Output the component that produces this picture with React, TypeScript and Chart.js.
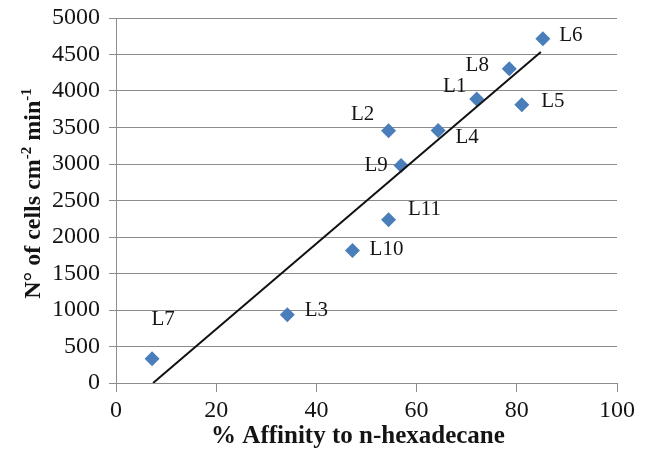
import React, { useEffect, useRef } from "react";
import { Chart, registerables } from "chart.js";

Chart.register(...registerables);

// Strain labels
const strains = ["L1", "L2", "L3", "L4", "L5", "L6", "L7", "L8", "L9", "L10", "L11"];
// % affinity to n-hexadecane
const affinity = [72.0, 54.4, 34.2, 64.3, 81.0, 85.2, 7.2, 78.5, 56.9, 47.2, 54.4];
// N° of cells cm-2 min-1
const cells = [3890, 3456, 936, 3460, 3812, 4716, 333, 4305, 2981, 1816, 2237];
// Linear trend line end points
const trendX = [7.4, 84.8];
const trendY = [0, 4534];

const xTitle = "% Affinity to n-hexadecane";
// y title pieces: [text, isSuperscript]
const yTitleParts: [string, boolean][] = [
  ["N° of cells cm", false],
  ["-2", true],
  [" min", false],
  ["-1", true],
];

// label placement relative to each marker (style only)
const labelOffsets: Record<string, [number, number]> = {
  L1: [-22, -13],
  L2: [-26, -16],
  L3: [29, -4],
  L4: [29, 7],
  L5: [31, -3],
  L6: [28, -3],
  L7: [11, -39],
  L8: [-32, -3],
  L9: [-25, 0],
  L10: [34, -1],
  L11: [36, -10],
};

const FONT = "'Liberation Serif', 'Times New Roman', serif";
const TEXT = "#141414";

const pointLabels = {
  id: "pointLabels",
  afterDatasetsDraw(chart: any) {
    const meta = chart.getDatasetMeta(0);
    const ctx = chart.ctx;
    ctx.save();
    ctx.font = `21px ${FONT}`;
    ctx.fillStyle = TEXT;
    ctx.textAlign = "center";
    ctx.textBaseline = "middle";
    meta.data.forEach((el: any, i: number) => {
      const name = strains[i];
      const off = labelOffsets[name] || [20, 0];
      ctx.fillText(name, el.x + off[0], el.y + off[1]);
    });
    ctx.restore();
  },
};

const axisTitles = {
  id: "axisTitles",
  afterDraw(chart: any) {
    const ctx = chart.ctx;
    const area = chart.chartArea;
    ctx.save();
    ctx.fillStyle = TEXT;
    // x title
    ctx.font = `bold 25px ${FONT}`;
    ctx.textAlign = "center";
    ctx.textBaseline = "middle";
    ctx.fillText(xTitle, area.left + (area.right - area.left) * 0.483, 437);
    // y title with superscripts
    const mainFont = `bold 24px ${FONT}`;
    const supFont = `bold 15px ${FONT}`;
    let total = 0;
    const widths = yTitleParts.map(([t, sup]) => {
      ctx.font = sup ? supFont : mainFont;
      const w = ctx.measureText(t).width;
      total += w;
      return w;
    });
    const cy = (area.top + area.bottom) / 2 - 7;
    ctx.translate(40, cy);
    ctx.rotate(-Math.PI / 2);
    ctx.textAlign = "left";
    ctx.textBaseline = "alphabetic";
    let x = -total / 2;
    yTitleParts.forEach(([t, sup], i) => {
      ctx.font = sup ? supFont : mainFont;
      ctx.fillText(t, x, sup ? -9 : 0);
      x += widths[i];
    });
    ctx.restore();
  },
};

export default function App() {
  const ref = useRef<HTMLCanvasElement | null>(null);

  useEffect(() => {
    document.body.style.margin = "0";
    const canvas = ref.current!;
    const chart = new Chart(canvas, {
      type: "scatter",
      data: {
        datasets: [
          {
            label: "cells",
            data: affinity.map((x, i) => ({ x, y: cells[i] })),
            pointStyle: "rectRot",
            pointRadius: 7.5,
            pointHoverRadius: 7.5,
            backgroundColor: "#4A7EBB",
            borderColor: "#4A7EBB",
            borderWidth: 0,
            order: 1,
          },
          {
            type: "line",
            label: "trend",
            data: trendX.map((x, i) => ({ x, y: trendY[i] })),
            borderColor: "#111",
            borderWidth: 2,
            pointRadius: 0,
            showLine: true,
            fill: false,
            order: 0,
          } as any,
        ],
      },
      options: {
        responsive: false,
        animation: false,
        layout: { padding: { top: 18, right: 31, left: 0, bottom: 0 } },
        plugins: {
          legend: { display: false },
          tooltip: { enabled: false },
        },
        scales: {
          x: {
            type: "linear",
            min: 0,
            max: 100,
            ticks: {
              stepSize: 20,
              padding: 4,
              color: TEXT,
              font: { family: FONT, size: 24 },
              maxRotation: 0,
              callback: (v: any) => String(v),
            },
            grid: {
              drawOnChartArea: false,
              drawTicks: true,
              tickLength: 9,
              tickColor: "#8c8c8c",
              color: "#8c8c8c",
            },
            border: { display: true, color: "#8c8c8c", width: 1 },
            title: { display: false },
            afterFit(scale: any) {
              scale.height = 72;
              scale.paddingLeft = 0;
              scale.paddingRight = 10;
            },
          },
          y: {
            type: "linear",
            min: 0,
            max: 5000,
            ticks: {
              stepSize: 500,
              padding: 9,
              color: TEXT,
              font: { family: FONT, size: 24 },
              callback: (v: any) => String(v),
            },
            grid: {
              color: "#8c8c8c",
              lineWidth: 1,
              drawTicks: true,
              tickLength: 7,
              tickColor: "#8c8c8c",
            },
            border: { display: true, color: "#8c8c8c", width: 1 },
            title: { display: false },
            afterFit(scale: any) {
              scale.width = 116;
              scale.paddingTop = 10;
              scale.paddingBottom = 0;
            },
          },
        },
      },
      plugins: [pointLabels, axisTitles],
    } as any);
    return () => chart.destroy();
  }, []);

  return (
    <div style={{ position: "fixed", left: 0, top: 0, width: 648, height: 455, background: "#fff" }}>
      <canvas ref={ref} width={648} height={455} style={{ display: "block" }} />
    </div>
  );
}
